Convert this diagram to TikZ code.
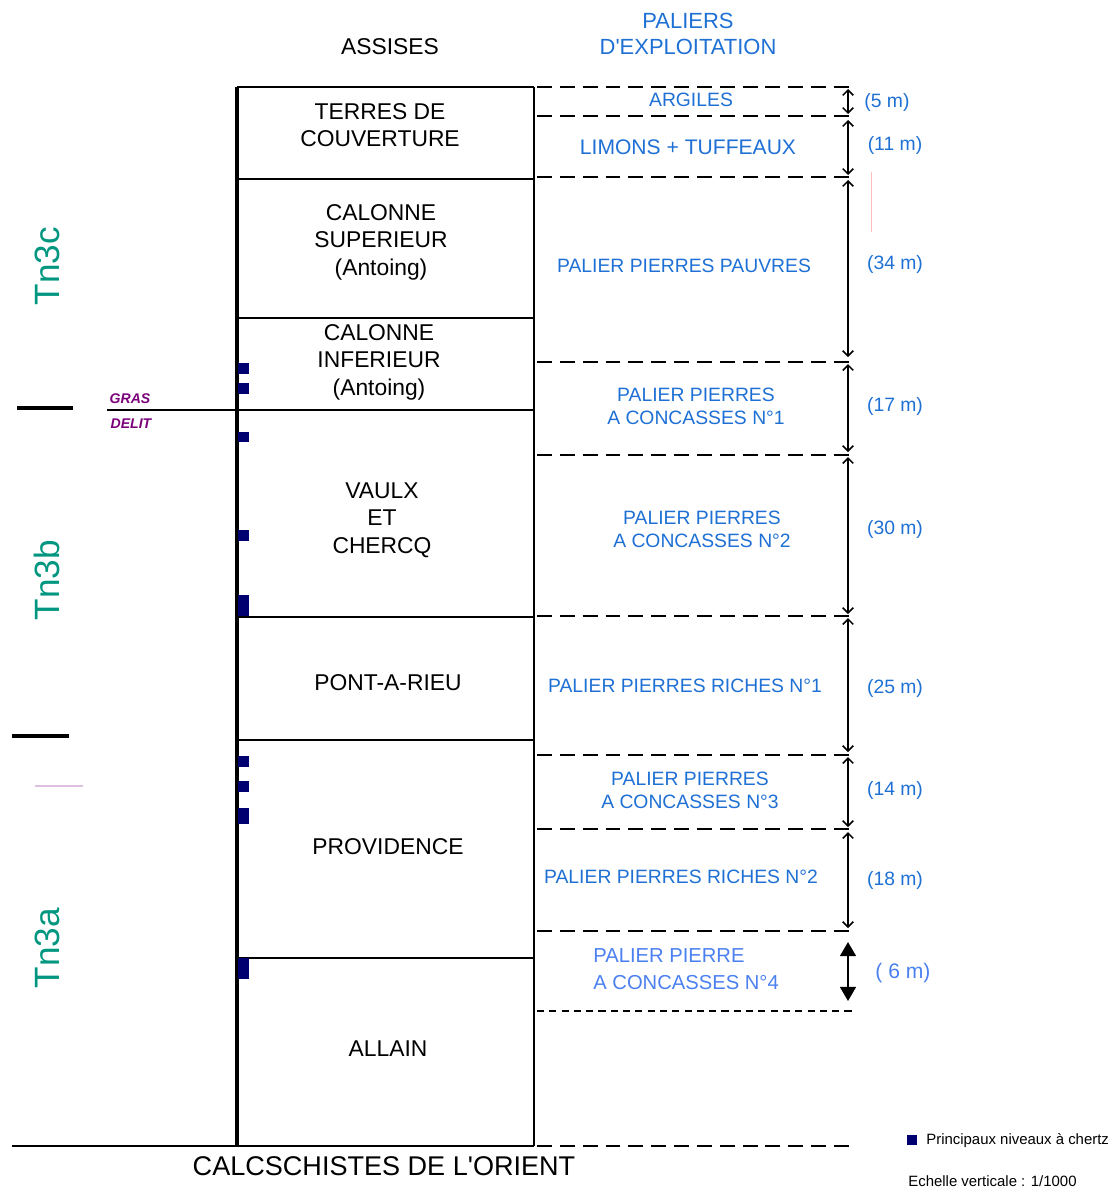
\documentclass[tikz,border=0pt]{standalone}
\usepackage{fontspec}
\setmainfont{Liberation Sans}
\usetikzlibrary{arrows.meta,positioning}
\definecolor{palblue}{RGB}{30,112,212}
\definecolor{lastblue}{RGB}{75,128,240}
\definecolor{tntteal}{RGB}{0,150,128}
\definecolor{chertnavy}{RGB}{0,0,112}
\definecolor{delitpurple}{RGB}{122,0,122}
\tikzset{
 col side/.style={line width=2pt},
 col sep/.style={line width=1.1pt},
 pal sep/.style={line width=1.1pt,dash pattern=on 8.5pt off 4.5pt},
 pal sep short/.style={line width=1pt,dash pattern=on 4pt off 3pt},
 pal arrow/.style={line width=0.9pt,{Straight Barb[length=3pt,width=6pt]}-{Straight Barb[length=3pt,width=6pt]}},
 pal arrow big/.style={line width=1.1pt,{Triangle[length=8pt,width=9pt]}-{Triangle[length=8pt,width=9pt]}},
 col text/.style={align=center,font=\fontsize{13}{15.6}\selectfont,inner sep=0pt},
 pal text/.style={align=center,text=palblue,font=\fontsize{11}{13}\selectfont,inner sep=0pt},
 pal measure/.style={text=palblue,font=\fontsize{11}{13}\selectfont,inner sep=0pt},
 tn label/.style={rotate=90,text=tntteal,font=\fontsize{20}{24}\selectfont,inner sep=0pt},
 limit label/.style={text=delitpurple,font=\fontsize{8}{9}\selectfont\bfseries\itshape,inner sep=0pt},
 chert/.style={fill=chertnavy},
 legend text/.style={font=\fontsize{8.5}{10}\selectfont,inner sep=0pt,anchor=west}
}
\begin{document}
\begin{tikzpicture}[x=0.02cm,y=-0.02cm]
 \useasboundingbox (0,0) rectangle (1118,1191);

 % headers
 \node[col text] (assises) at (390,47) {ASSISES};
 \node[pal text,font=\fontsize{12.5}{15}\selectfont] (paliers) at (688,34) {PALIERS\\D\textquotesingle EXPLOITATION};

 % stratigraphic column
 \draw[col side] (237,87) -- (237,1147);
 \draw[col sep] (534,87) -- (534,1146);
 \draw[col sep] (237,87) -- (534,87);
 \foreach \y in {179,318,617,740,958} \draw[col sep] (237,\y) -- (534,\y);
 \draw[col sep] (107,410) -- (534,410);
 \draw[col sep] (12,1146) -- (534,1146);

 \node[col text] (terres) at (380,125) {TERRES DE\\COUVERTURE};
 \node[col text] (calsup) at (381,242) {CALONNE\\SUPERIEUR\\(Antoing)};
 \node[col text] (calinf) at (379,362) {CALONNE\\INFERIEUR\\(Antoing)};
 \node[col text] (vaulx) at (382,520) {VAULX\\ET\\CHERCQ};
 \node[col text] (pont) at (388,683) {PONT-A-RIEU};
 \node[col text] (provid) at (388,847) {PROVIDENCE};
 \node[col text] (allain) at (388,1049) {ALLAIN};
 \node[col text,font=\fontsize{15.4}{18}\selectfont] (calcs) at (384,1166) {CALCSCHISTES DE L\textquotesingle ORIENT};

 % chert levels
 \foreach \a/\b in {363/374,383/394,432/442,530/541,595/616,756/767,781/792,808/824,958/979}
   \fill[chert] (238,\a) rectangle (249,\b);

 % stage limits
 \draw[line width=2.8pt] (17,408) -- (73,408);
 \draw[line width=2.8pt] (12,736) -- (69,736);
 \draw[violet!25,line width=0.6pt] (35,786) -- (83,786);
 \node[limit label] (gras) at (130,399) {GRAS};
 \node[limit label] (delit) at (131,424) {DELIT};
 \node[tn label] (tnc) at (47,266) {Tn3c};
 \node[tn label] (tnb) at (47,580) {Tn3b};
 \node[tn label] (tna) at (47,948) {Tn3a};

 % exploitation benches
 \foreach \y in {87,116,177,362,455,616,755,829,931,1146}
   \draw[pal sep] (537,\y) -- (850,\y);
 \draw[pal sep short] (537,1011) -- (852,1011);
 \draw[red!25,line width=0.5pt] (871,172) -- (871,232);

 \node[pal text] (argiles) at (691,100) {ARGILES};
 \node[pal text,font=\fontsize{12}{14}\selectfont] (limons) at (688,147) {LIMONS + TUFFEAUX};
 \node[pal text] (pauvres) at (684,266) {PALIER PIERRES PAUVRES};
 \node[pal text] (conc1) at (696,406) {PALIER PIERRES\\A CONCASSES N°1};
 \node[pal text] (conc2) at (702,529) {PALIER PIERRES\\A CONCASSES N°2};
 \node[pal text] (riches1) at (685,686) {PALIER PIERRES RICHES N°1};
 \node[pal text] (conc3) at (690,790) {PALIER PIERRES\\A CONCASSES N°3};
 \node[pal text] (riches2) at (681,877) {PALIER PIERRES RICHES N°2};
 \node[pal text,text=lastblue,align=left,anchor=west,font=\fontsize{11.5}{15}\selectfont] (conc4) at (593,969) {PALIER PIERRE\\A CONCASSES N°4};

 % thicknesses
 \foreach \n/\a/\b in {5/89/114,11/120/175,34/180/357,17/364/452,30/457/614,25/618/752,14/757/827,18/832/928}{
   \coordinate (top\n) at (848,\a);
   \coordinate (bot\n) at (848,\b);
   \draw[pal arrow] (top\n) -- (bot\n);
 }
 \coordinate (top6) at (848,942);
 \coordinate (bot6) at (848,1001);
 \draw[pal arrow big] (top6) -- (bot6);

 \node[pal measure] (m5) at (887,102) {(5 m)};
 \foreach \n/\y in {11/145,34/264,17/406,30/529,25/688,14/790,18/880}
   \node[pal measure] (m\n) at (895,\y) {(\n\ m)};
 \node[pal measure,text=lastblue,font=\fontsize{12}{14}\selectfont] (m6) at (903,973) {( 6 m)};

 % legend
 \fill[chert] (907,1135) rectangle (917,1145);
 \node[legend text] (legchert) at (926,1141) {Principaux niveaux à chertz};
 \node[legend text] (legscale) at (908,1181) {Echelle verticale : 1/1000};
\end{tikzpicture}
\end{document}
